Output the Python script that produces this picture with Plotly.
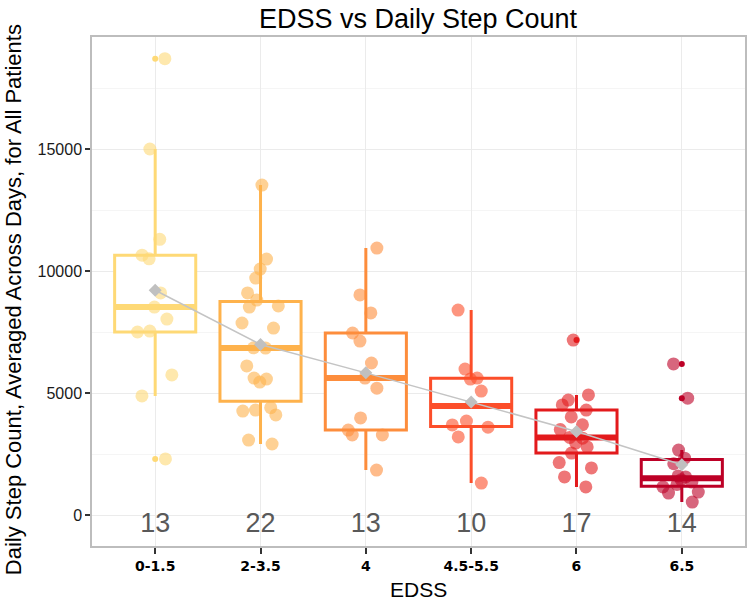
import numpy as np
import plotly.graph_objects as go

# ---- data ----
categories = ["0-1.5", "2-3.5", "4", "4.5-5.5", "6", "6.5"]

steps_0_15 = [18700, 15000, 11300, 10650, 10500, 9100, 8520, 8030, 7540, 7500, 5740, 4880, 2300]
steps_2_35 = [13520, 10490, 10080, 9710, 9100, 8810, 8570, 8520, 7870, 7660, 6850, 6840,
              6110, 5610, 5570, 5450, 4400, 4300, 4260, 4100, 3070, 2910]
steps_4 = [10940, 9020, 8280, 7460, 7130, 6230, 5610, 5200, 3980, 3480, 3280, 3280, 1840]
steps_45_55 = [8400, 5980, 5610, 5570, 5080, 3850, 3690, 3600, 3200, 1310]
steps_6 = [7170, 4920, 4710, 4510, 4300, 4020, 3700, 3500, 3180, 3150, 2950, 2790, 2540,
           2150, 1930, 1560, 1150]
steps_65 = [6190, 4790, 2660, 2330, 2100, 1600, 1560, 1450, 1350, 1250, 1150, 940, 900, 530]

groups = [steps_0_15, steps_2_35, steps_4, steps_45_55, steps_6, steps_65]
colors = ["#FED976", "#FEB24C", "#FD8D3C", "#FC4E2A", "#E31A1C", "#BD0026"]


def rgba(hex_color, a):
    h = hex_color.lstrip("#")
    r, g, b = int(h[0:2], 16), int(h[2:4], 16), int(h[4:6], 16)
    return f"rgba({r},{g},{b},{a})"


fig = go.Figure()
BOX_W = 0.77
FONT = "Liberation Sans, Arial, sans-serif"
TICKFONT = "DejaVu Sans, sans-serif"

means = []
for cat, vals, col in zip(categories, groups, colors):
    v = np.array(vals, dtype=float)
    q1, med, q3 = np.percentile(v, [25, 50, 75])
    iqr = q3 - q1
    lo_lim, hi_lim = q1 - 1.5 * iqr, q3 + 1.5 * iqr
    inside = v[(v >= lo_lim) & (v <= hi_lim)]
    outl = v[(v < lo_lim) | (v > hi_lim)]
    means.append(v.mean())

    # box with whiskers
    fig.add_trace(go.Box(
        x=[cat], q1=[q1], median=[med], q3=[q3],
        lowerfence=[inside.min()], upperfence=[inside.max()],
        width=BOX_W, whiskerwidth=0, boxpoints=False,
        line=dict(color=col, width=3), fillcolor="white",
        hoverinfo="skip", showlegend=False))
    # thick median
    fig.add_trace(go.Box(
        x=[cat], q1=[med], median=[med], q3=[med],
        lowerfence=[med], upperfence=[med],
        width=BOX_W, whiskerwidth=0, boxpoints=False,
        line=dict(color=col, width=6), fillcolor=col,
        hoverinfo="skip", showlegend=False))
    # outliers
    if len(outl):
        fig.add_trace(go.Scatter(
            x=[cat] * len(outl), y=outl, mode="markers",
            marker=dict(color=col, size=6),
            hoverinfo="skip", showlegend=False))

for cat, vals, col in zip(categories, groups, colors):
    # jittered points
    fig.add_trace(go.Box(
        x=[cat] * len(vals), y=vals, boxpoints="all", jitter=0.55, pointpos=0,
        width=BOX_W, line=dict(color="rgba(0,0,0,0)", width=0),
        fillcolor="rgba(0,0,0,0)",
        marker=dict(color=rgba(col, 0.6), size=13),
        hoverinfo="skip", showlegend=False))

# mean line
fig.add_trace(go.Scatter(
    x=categories, y=means, mode="lines+markers",
    line=dict(color="#C4C4C4", width=1.5),
    marker=dict(symbol="diamond", size=10, color="#C0C0C0"),
    hoverinfo="skip", showlegend=False))

# counts
fig.add_trace(go.Scatter(
    x=categories, y=[-420] * len(categories), mode="text",
    text=[str(len(g)) for g in groups],
    textfont=dict(family=FONT, size=27, color="#595959"),
    hoverinfo="skip", showlegend=False))

fig.update_layout(
    width=750, height=602,
    margin=dict(l=92, r=5, t=37, b=56),
    paper_bgcolor="white", plot_bgcolor="white",
    boxmode="overlay",
    title=dict(text="EDSS vs Daily Step Count", x=418 / 750, xanchor="center",
               y=1 - 19 / 602, yanchor="middle",
               font=dict(family=FONT, size=27, color="black")),
    font=dict(family=FONT, color="black"),
    annotations=[
        dict(text="Daily Step Count, Averaged Across Days, for All Patients",
             textangle=-90, xref="paper", yref="paper", x=0, y=0.483,
             xshift=-79, xanchor="center", yanchor="middle", showarrow=False,
             font=dict(family=FONT, size=22, color="black")),
        dict(text="EDSS", xref="paper", yref="paper", x=0.5, y=0,
             yshift=-43, xanchor="center", yanchor="middle", showarrow=False,
             font=dict(family=FONT, size=21, color="black")),
    ],
)
fig.update_xaxes(
    type="category", categoryorder="array", categoryarray=categories,
    range=[-0.6, 5.6], showgrid=True, gridcolor="#EBEBEB", gridwidth=1,
    showline=True, linecolor="#BDBDBD", linewidth=1.5, mirror=True,
    ticks="outside", ticklen=6, tickwidth=1.5, tickcolor="#333333",
    tickfont=dict(family=TICKFONT, size=14, color="black", weight="bold"),
    automargin=False, zeroline=False)
fig.update_yaxes(
    range=[-1270, 19590], dtick=5000, tickformat="d",
    showgrid=True, gridcolor="#EBEBEB", gridwidth=1,
    minor=dict(dtick=2500, showgrid=True, gridcolor="#F5F5F5", gridwidth=0.8),
    showline=True, linecolor="#BDBDBD", linewidth=1.5, mirror=True,
    ticks="outside", ticklen=5, tickwidth=1.5, tickcolor="#333333",
    tickfont=dict(family=FONT, size=16, color="#1A1A1A"),
    automargin=False, zeroline=False)

# remove the browser's default 8px body margin so the figure fills the window
fig.write_html("out.html", config={"displayModeBar": False},
               post_script="document.body.style.margin='0px';")
